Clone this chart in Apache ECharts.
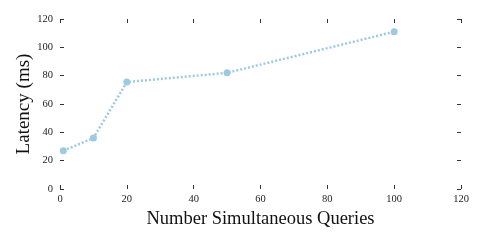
<!DOCTYPE html>
<html><head><meta charset="utf-8">
<script src="https://cdn.jsdelivr.net/npm/echarts@6/dist/echarts.min.js"></script>
<style>html,body{margin:0;padding:0;background:#fff}#c{width:485px;height:242px}</style>
</head><body><div id="c"></div>
<script>
const queries = [1, 10, 20, 50, 100];
const latency = [27, 36, 75.5, 82, 111];
const xTicks = [0, 20, 40, 60, 80, 100, 120];
const yTicks = [0, 20, 40, 60, 80, 100, 120];

const font = 'Liberation Serif';
const tick = {show: true, inside: true, length: 4, lineStyle: {color: '#333', width: 1}};
const chart = echarts.init(document.getElementById('c'));
const baseX = {type: 'value', min: xTicks[0], max: xTicks[xTicks.length - 1], interval: 20, splitLine: {show: false}, axisLine: {show: false, onZero: false}, axisTick: tick};
const baseY = {type: 'value', min: yTicks[0], max: yTicks[yTicks.length - 1], interval: 20, splitLine: {show: false}, axisLine: {show: false, onZero: false}, axisTick: tick};
chart.setOption({
  animation: false,
  grid: {left: 60, right: 24, top: 19, bottom: 53},
  xAxis: [
    Object.assign({}, baseX, {position: 'bottom', name: 'Number Simultaneous Queries', nameLocation: 'middle', nameGap: 20,
      nameTextStyle: {fontFamily: font, fontSize: 18.5, color: '#111'},
      axisLabel: {fontFamily: font, fontSize: 10.5, color: '#222', margin: 5}}),
    Object.assign({}, baseX, {position: 'top', axisLabel: {show: false}})
  ],
  yAxis: [
    Object.assign({}, baseY, {position: 'left', name: 'Latency (ms)', nameLocation: 'middle', nameGap: 26, nameMoveOverlap: false,
      nameTextStyle: {fontFamily: font, fontSize: 19, color: '#111'},
      axisLabel: {fontFamily: font, fontSize: 10.5, color: '#222', margin: 7}}),
    Object.assign({}, baseY, {position: 'right', axisLabel: {show: false}})
  ],
  series: [{
    type: 'line',
    data: queries.map((q, i) => [q, latency[i]]),
    symbol: 'circle', symbolSize: 7,
    itemStyle: {color: '#9ecae1'},
    lineStyle: {color: '#9ecae1', width: 2.5, type: [2, 2]}
  }]
});
</script></body></html>
